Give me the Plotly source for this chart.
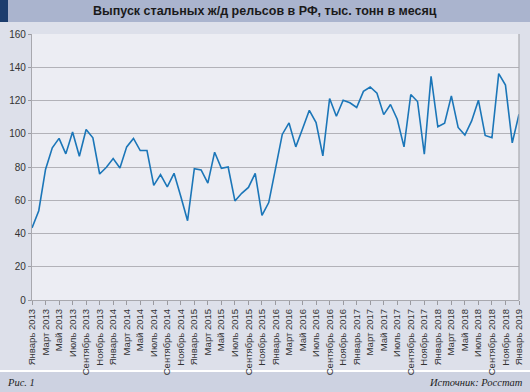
import plotly.graph_objects as go

month_names = ["Январь", "Февраль", "Март", "Апрель", "Май", "Июнь",
               "Июль", "Август", "Сентябрь", "Октябрь", "Ноябрь", "Декабрь"]
years = [2013, 2014, 2015, 2016, 2017, 2018, 2019]

categories = [f"{m} {y}" for y in years for m in month_names][:73]

values = [43.4, 53.7, 78.5, 91.5, 97.2, 87.9, 101.0, 86.5, 102.6, 97.6,
          75.8, 79.8, 85.1, 79.4, 92.1, 97.2, 89.9, 89.9, 68.9, 75.4,
          68.1, 76.2, 62.2, 47.7, 79.0, 78.2, 70.3, 88.9, 79.2, 80.0,
          59.6, 64.2, 67.7, 76.2, 50.9, 58.6, 79.0, 99.6, 106.5, 92.1,
          103.0, 114.1, 106.7, 86.7, 121.2, 110.5, 120.2, 118.6, 115.8, 125.5,
          128.1, 124.4, 111.5, 117.6, 108.7, 92.1, 123.6, 119.4, 87.7, 134.5,
          104.2, 106.3, 122.8, 103.8, 99.2, 107.7, 120.2, 99.0, 97.6, 136.2,
          129.3, 94.5, 111.7]

tick_labels = categories[::2]
y_ticks = [0, 20, 40, 60, 80, 100, 120, 140, 160]

title_text = "Выпуск стальных ж/д рельсов в РФ, тыс. тонн в месяц"
fig_label = "Рис. 1"
source_text = "Источник: Росстат"

W, H = 530, 392
L, R, T, B = 32, 11, 34, 92
pw, ph = W - L - R, H - T - B


def px(x):
    return (x - L) / pw


def py(y):
    return (H - B - y) / ph


fig = go.Figure()
fig.add_trace(go.Scatter(
    x=categories, y=values, mode="lines",
    line=dict(color="#1b76b8", width=1.6),
    hoverinfo="x+y", showlegend=False,
))

shapes = [
    # title bar
    dict(type="rect", xref="paper", yref="paper", x0=px(0), x1=px(W), y0=py(22), y1=py(0),
         fillcolor="#aab4ce", line=dict(width=0), layer="below"),
    dict(type="rect", xref="paper", yref="paper", x0=px(0), x1=px(8), y0=py(22), y1=py(0),
         fillcolor="#1c3d6e", line=dict(width=0), layer="below"),
    # footer
    dict(type="rect", xref="paper", yref="paper", x0=px(0), x1=px(W), y0=py(372), y1=py(370),
         fillcolor="#ffffff", line=dict(width=0), layer="below"),
    dict(type="rect", xref="paper", yref="paper", x0=px(0), x1=px(W), y0=py(H), y1=py(372),
         fillcolor="#cdd2e1", line=dict(width=0), layer="below"),
    # right border of plot
    dict(type="line", xref="paper", yref="paper", x0=1, x1=1, y0=0, y1=1,
         line=dict(color="#a8a8ae", width=1.2)),
]

annotations = [
    dict(text=f"<b>{title_text}</b>", xref="paper", yref="paper", x=px(265), y=py(11),
         xanchor="center", yanchor="middle", showarrow=False,
         font=dict(family="Liberation Sans, Arial", size=12.5, color="#1a1a1a")),
    dict(text=f"<i>{fig_label}</i>", xref="paper", yref="paper", x=px(5), y=py(382),
         xanchor="left", yanchor="middle", showarrow=False,
         font=dict(family="Liberation Serif, Times New Roman", size=10.5, color="#222")),
    dict(text=f"<i>{source_text}</i>", xref="paper", yref="paper", x=px(525), y=py(382),
         xanchor="right", yanchor="middle", showarrow=False,
         font=dict(family="Liberation Serif, Times New Roman", size=10.5, color="#222")),
]

fig.update_layout(
    width=W, height=H,
    margin=dict(l=L, r=R, t=T, b=B, pad=0),
    paper_bgcolor="#dde0ea",
    plot_bgcolor="#ecedf3",
    shapes=shapes,
    annotations=annotations,
    font=dict(family="Liberation Sans, Arial", size=10, color="#333"),
    xaxis=dict(
        type="category", range=[0, 72], tickmode="array",
        tickvals=tick_labels, ticktext=tick_labels, tickangle=-90,
        ticks="outside", ticklen=4, tickcolor="#9a9aa0",
        showgrid=False, showline=True, linecolor="#a8a8ae", linewidth=1.2,
        tickfont=dict(size=9.5, color="#333"), zeroline=False,
        automargin=False,
    ),
    yaxis=dict(
        range=[0, 160], tickmode="array", tickvals=y_ticks,
        ticks="outside", ticklen=3, tickcolor="#9a9aa0",
        showgrid=True, gridcolor="#b2b2b8", gridwidth=1.2,
        showline=True, linecolor="#a8a8ae", linewidth=1.2,
        zeroline=False, tickfont=dict(size=10, color="#333"),
        automargin=False,
    ),
)

fig.write_html(
    "out.html",
    config={"displayModeBar": False},
    post_script="document.body.style.margin='0';document.body.style.overflow='hidden';",
)
